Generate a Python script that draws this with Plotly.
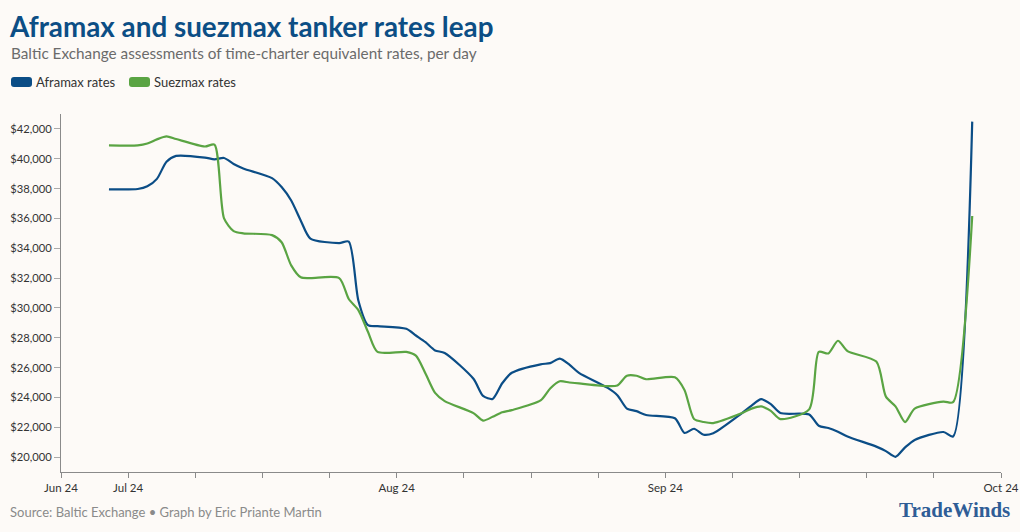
import plotly.graph_objects as go

# ---------------- data ----------------
dates = [
    "2024-07-05", "2024-07-08", "2024-07-09", "2024-07-10", "2024-07-11", "2024-07-12",
    "2024-07-15", "2024-07-16", "2024-07-17", "2024-07-18", "2024-07-19",
    "2024-07-22", "2024-07-23", "2024-07-24", "2024-07-25", "2024-07-26",
    "2024-07-29", "2024-07-30", "2024-07-31", "2024-08-01", "2024-08-02",
    "2024-08-05", "2024-08-06", "2024-08-07", "2024-08-08", "2024-08-09",
    "2024-08-12", "2024-08-13", "2024-08-14", "2024-08-15", "2024-08-16",
    "2024-08-19", "2024-08-20", "2024-08-21", "2024-08-22", "2024-08-23",
    "2024-08-26", "2024-08-27", "2024-08-28", "2024-08-29", "2024-08-30",
    "2024-09-02", "2024-09-03", "2024-09-04", "2024-09-05", "2024-09-06",
    "2024-09-09", "2024-09-10", "2024-09-11", "2024-09-12", "2024-09-13",
    "2024-09-16", "2024-09-17", "2024-09-18", "2024-09-19", "2024-09-20",
    "2024-09-23", "2024-09-24", "2024-09-25", "2024-09-26", "2024-09-27",
    "2024-09-30", "2024-10-01", "2024-10-03",
]

aframax = [
    37950, 37970, 38150, 38650, 39800, 40190,
    40080, 39960, 40050, 39650, 39350,
    38700, 38100, 37200, 35850, 34650,
    34350, 34450, 30500, 28850, 28780,
    28600, 28150, 27700, 27150, 26980,
    25250, 24100, 23900, 24950, 25650,
    26220, 26300, 26600, 26200, 25650,
    24640, 24150, 23250, 23080, 22820,
    22600, 21620, 21900, 21500, 21600,
    22950, 23450, 23880, 23550, 22950,
    22850, 22100, 21950, 21700, 21380,
    20700, 20400, 20020, 20650, 21150,
    21680, 21380, 42490,
]

suezmax = [
    40900, 40900, 41020, 41300, 41500, 41320,
    40820, 40950, 36000, 35150, 35000,
    34880, 34400, 32850, 32050, 32000,
    32000, 30600, 29850, 28400, 27050,
    27050, 26800, 25600, 24300, 23750,
    22950, 22450, 22700, 23000, 23150,
    23800, 24600, 25080, 25000, 24940,
    24760, 24800, 25450, 25450, 25220,
    25350, 24500, 22550, 22350, 22280,
    22950, 23250, 23400, 23100, 22550,
    23200, 27050, 26950, 27800, 27100,
    26400, 24050, 23400, 22350, 23250,
    23720, 23680, 36160,
]

series_names = ["Aframax rates", "Suezmax rates"]
series_colors = ["#0b4d86", "#5aa443"]

tick_dates = ["2024-06-30", "2024-07-07", "2024-07-14", "2024-07-21", "2024-07-28",
              "2024-08-04", "2024-08-11", "2024-08-18", "2024-08-25", "2024-09-01",
              "2024-09-08", "2024-09-15", "2024-09-22", "2024-09-29", "2024-10-06"]
tick_labels = ["Jun 24", "Jul 24", "", "", "", "Aug 24", "", "", "", "Sep 24",
               "", "", "", "", "Oct 24"]

y_ticks = list(range(20000, 42001, 2000))

title = "Aframax and suezmax tanker rates leap"
subtitle = "Baltic Exchange assessments of time-charter equivalent rates, per day"
footer = "Source: Baltic Exchange \u2022 Graph by Eric Priante Martin"
logo = "TradeWinds"

# ---------------- figure ----------------
BG = "#fdfaf7"
FONT = "Source Sans Pro, Lato, sans-serif"
W, H = 1020, 532

fig = go.Figure()
for name, vals, col in zip(series_names, [aframax, suezmax], series_colors):
    fig.add_trace(go.Scatter(
        x=dates, y=vals, name=name, mode="lines",
        line=dict(color=col, width=2.2, shape="spline", smoothing=0.7),
        showlegend=False,
        hovertemplate="%{x|%d %b %Y}: $%{y:,.0f}<extra>" + name + "</extra>",
    ))

L, R, T, B = 61, 19, 114, 60
plot_w = W - L - R
plot_h = H - T - B

fig.update_layout(
    width=W, height=H,
    paper_bgcolor=BG, plot_bgcolor=BG,
    margin=dict(l=L, r=R, t=T, b=B, pad=0, autoexpand=False),
    font=dict(family=FONT, color="#333333", size=12),
    title=dict(text="<b>" + title + "</b>", x=10 / W, xanchor="left", xref="container",
               y=1 - 27 / H, yanchor="middle", yref="container",
               font=dict(family=FONT, size=27.8, color="#0c4e85")),
    xaxis=dict(
        type="date", range=["2024-06-30", "2024-10-06"], automargin=False,
        tickmode="array", tickvals=tick_dates, ticktext=tick_labels,
        showgrid=False, zeroline=False,
        showline=True, linecolor="#8a8a8a", linewidth=1,
        ticks="outside", ticklen=5, tickcolor="#8a8a8a", tickwidth=1,
        ticklabeloverflow="allow",
        tickfont=dict(size=11.5, color="#333333"),
    ),
    yaxis=dict(
        range=[19000, 43000], tickmode="array", tickvals=y_ticks, automargin=False,
        tickformat="$,.0f",
        showgrid=False, zeroline=False,
        showline=True, linecolor="#8a8a8a", linewidth=1,
        ticks="outside", ticklen=6, tickcolor="#aaaaaa", tickwidth=1,
        tickfont=dict(size=11.2, color="#333333"),
    ),
    hovermode="x unified",
)

# px -> paper helpers (paper relative to plot area)
def px_x(px):
    return (px - L) / plot_w

def px_y(py):
    return 1 - (py - T) / plot_h

annotations = [
    dict(text=subtitle, x=px_x(9), y=px_y(53), xref="paper", yref="paper",
         xanchor="left", yanchor="middle", showarrow=False,
         font=dict(family=FONT, size=15.3, color="#6b6b6b")),
    dict(text=footer, x=px_x(8), y=px_y(512), xref="paper", yref="paper",
         xanchor="left", yanchor="middle", showarrow=False,
         font=dict(family=FONT, size=13, color="#8a8a8a")),
    dict(text="<b>" + logo + "</b>", x=px_x(1012), y=px_y(510), xref="paper", yref="paper",
         xanchor="right", yanchor="middle", showarrow=False,
         font=dict(family="Liberation Serif, DejaVu Serif, serif", size=21, color="#2f5d96")),
]

shapes = []
legend_x = [11, 129]
for i, (name, col) in enumerate(zip(series_names, series_colors)):
    x0 = legend_x[i]
    x1 = x0 + 21
    y0, y1 = 77, 87
    r = 3
    path = (f"M{px_x(x0 + r)},{px_y(y0)} L{px_x(x1 - r)},{px_y(y0)} "
            f"Q{px_x(x1)},{px_y(y0)} {px_x(x1)},{px_y(y0 + r)} "
            f"L{px_x(x1)},{px_y(y1 - r)} Q{px_x(x1)},{px_y(y1)} {px_x(x1 - r)},{px_y(y1)} "
            f"L{px_x(x0 + r)},{px_y(y1)} Q{px_x(x0)},{px_y(y1)} {px_x(x0)},{px_y(y1 - r)} "
            f"L{px_x(x0)},{px_y(y0 + r)} Q{px_x(x0)},{px_y(y0)} {px_x(x0 + r)},{px_y(y0)} Z")
    shapes.append(dict(type="path", path=path, xref="paper", yref="paper",
                       fillcolor=col, line=dict(width=0), layer="above"))
    annotations.append(dict(text=name, x=px_x(x1 + 2), y=px_y(82), xref="paper", yref="paper",
                            xanchor="left", yanchor="middle", showarrow=False,
                            font=dict(family=FONT, size=13, color="#333333")))

fig.update_layout(annotations=annotations, shapes=shapes)

fig.write_html(
    "out.html",
    config={"displayModeBar": False},
    post_script="document.body.style.margin='0';document.body.style.background='" + BG + "';",
)
